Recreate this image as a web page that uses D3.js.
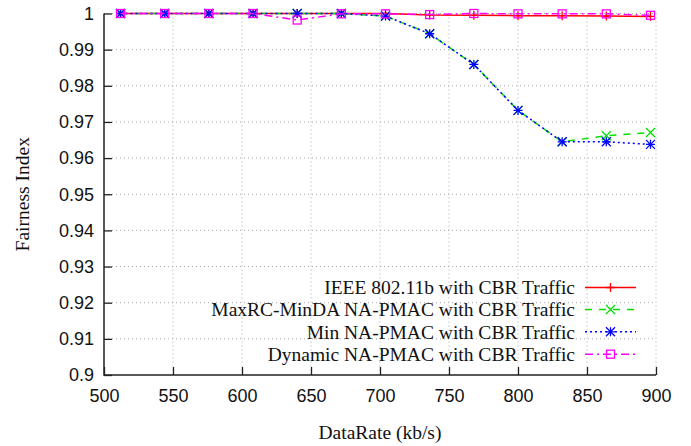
<!DOCTYPE html>
<html>
<head>
<meta charset="utf-8">
<script src="https://cdn.jsdelivr.net/npm/d3@7"></script>
<style>
  body { margin: 0; background: #fff; }
  svg { display: block; }
</style>
</head>
<body>
<svg id="chart" width="691" height="446"></svg>
<script>
const dataRates = [512, 544, 576, 608, 640, 672, 704, 736, 768, 800, 832, 864, 896];
const ieee     = [1, 1, 1, 1, 1, 1, 1, 0.9996, 0.9995, 0.9994, 0.9994, 0.9993, 0.9992];
const maxrc    = [1, 1, 1, 1, 1, 1, 0.9993, 0.9944, 0.9859, 0.9732, 0.9645, 0.9662, 0.9671];
const minNa    = [1, 1, 1, 1, 1, 1, 0.9993, 0.9944, 0.9859, 0.9732, 0.9645, 0.9645, 0.9638];
const dynamic  = [1, 1, 1, 1, 0.9982, 0.9999, 0.9999, 0.9997, 1, 0.9999, 0.9999, 0.9999, 0.9995];
const seriesNames = [
  "IEEE 802.11b with CBR Traffic",
  "MaxRC-MinDA NA-PMAC with CBR Traffic",
  "Min NA-PMAC with CBR Traffic",
  "Dynamic NA-PMAC with CBR Traffic"
];
const xTicks = [500, 550, 600, 650, 700, 750, 800, 850, 900];
const yTicks = [0.9, 0.91, 0.92, 0.93, 0.94, 0.95, 0.96, 0.97, 0.98, 0.99, 1];

const series = [
  { name: seriesNames[0], values: ieee, color: "#ff0000", dash: null, marker: "plus" },
  { name: seriesNames[1], values: maxrc, color: "#00e000", dash: "7,7", marker: "cross" },
  { name: seriesNames[2], values: minNa, color: "#0000ff", dash: "2,3", marker: "star" },
  { name: seriesNames[3], values: dynamic, color: "#ff00ff", dash: "8,4,2,4", marker: "square" }
];

const svg = d3.select("#chart");
const L = 104, R = 656, T = 13.5, B = 375;
const x = d3.scaleLinear().domain([500, 900]).range([L, R]);
const y = d3.scaleLinear().domain([0.9, 1]).range([B, T]);

// grid
const grid = svg.append("g").attr("stroke", "#a8a8a8").attr("stroke-width", 1).attr("stroke-dasharray", "1,3");
xTicks.slice(1).forEach(t => grid.append("line").attr("x1", x(t)).attr("x2", x(t)).attr("y1", T).attr("y2", B));
yTicks.slice(1).forEach(t => grid.append("line").attr("x1", L).attr("x2", R).attr("y1", y(t)).attr("y2", y(t)));

// axes
const xAxis = d3.axisBottom(x).tickValues(xTicks).tickSize(-8).tickPadding(10).tickFormat(d3.format("d"));
const yAxis = d3.axisLeft(y).tickValues(yTicks).tickSize(-8).tickPadding(10).tickFormat(d => d === 1 ? "1" : d3.format(".2~f")(d));
const gx = svg.append("g").attr("transform", `translate(0,${B})`).call(xAxis);
const gy = svg.append("g").attr("transform", `translate(${L},0)`).call(yAxis);
[gx, gy].forEach(g => {
  g.select(".domain").remove();
  g.selectAll(".tick line").attr("stroke", "#222").attr("stroke-width", 1.3);
  g.selectAll("text").attr("font-family", "'Liberation Sans', Arial, sans-serif").attr("font-size", 18).attr("fill", "#111");
});
gx.selectAll("text").attr("dy", "0.95em");
svg.append("path").attr("d", `M${L},${T}V${B}H${R}`).attr("fill", "none").attr("stroke", "#222").attr("stroke-width", 1.5);

// axis titles
svg.append("text").attr("x", (L + R) / 2).attr("y", 439).attr("text-anchor", "middle")
  .attr("font-family", "'Liberation Serif', 'Times New Roman', serif").attr("font-size", 19.5).attr("fill", "#111")
  .text("DataRate (kb/s)");
svg.append("text").attr("transform", `translate(29,${(T + B) / 2}) rotate(-90)`).attr("text-anchor", "middle")
  .attr("font-family", "'Liberation Serif', 'Times New Roman', serif").attr("font-size", 19.5).attr("fill", "#111")
  .text("Fairness Index");

function drawMarker(g, type, cx, cy, color) {
  const s = 4.5;
  const m = g.append("g").attr("stroke", color).attr("stroke-width", 1.3).attr("fill", "none");
  if (type === "plus" || type === "star") {
    m.append("path").attr("d", `M${cx - s},${cy}H${cx + s}M${cx},${cy - s}V${cy + s}`);
  }
  if (type === "cross" || type === "star") {
    m.append("path").attr("d", `M${cx - s},${cy - s}L${cx + s},${cy + s}M${cx - s},${cy + s}L${cx + s},${cy - s}`);
  }
  if (type === "square") {
    m.append("rect").attr("x", cx - s + 0.5).attr("y", cy - s + 0.5).attr("width", 2 * s - 1).attr("height", 2 * s - 1);
  }
}

const line = d3.line().x(d => x(d[0])).y(d => y(d[1]));
series.forEach(s => {
  const pts = dataRates.map((r, i) => [r, s.values[i]]);
  svg.append("path").attr("d", line(pts)).attr("fill", "none").attr("stroke", s.color)
    .attr("stroke-width", 1.5).attr("stroke-dasharray", s.dash);
  pts.forEach(p => drawMarker(svg, s.marker, x(p[0]), y(p[1]), s.color));
});

// legend
const legendYs = [287.5, 309.5, 331.8, 354.2];
series.forEach((s, i) => {
  const ly = legendYs[i];
  svg.append("text").attr("x", 575).attr("y", ly).attr("dy", "0.35em").attr("text-anchor", "end")
    .attr("font-family", "'Liberation Serif', 'Times New Roman', serif").attr("font-size", 19.5).attr("fill", "#111")
    .text(s.name);
  svg.append("line").attr("x1", 585).attr("x2", 636).attr("y1", ly).attr("y2", ly)
    .attr("stroke", s.color).attr("stroke-width", 1.5).attr("stroke-dasharray", s.dash);
  drawMarker(svg, s.marker, 610.5, ly, s.color);
});
</script>
</body>
</html>
